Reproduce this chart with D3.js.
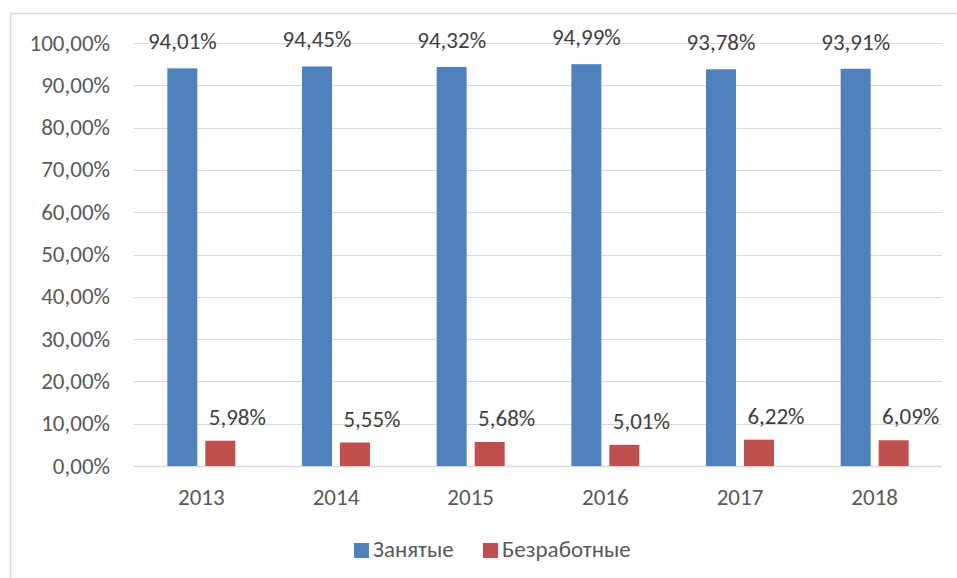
<!DOCTYPE html>
<html lang="ru">
<head>
  <meta charset="UTF-8">
  <title>Занятые и безработные</title>
  <style>
    body { margin: 0; background: #fff; }
    text { font-family: Calibri, Carlito, "Liberation Sans", Arial, sans-serif; fill: #595959; }
  </style>
</head>
<body>
<div id="chart"></div>
<script src="https://d3js.org/d3.v7.min.js"></script>
<script>

// chart data
const years = ["2013", "2014", "2015", "2016", "2017", "2018"];
const seriesNames = ["Занятые", "Безработные"];
const employed = [94.01, 94.45, 94.32, 94.99, 93.78, 93.91];
const unemployed = [5.98, 5.55, 5.68, 5.01, 6.22, 6.09];
const yTicks = [0, 10, 20, 30, 40, 50, 60, 70, 80, 90, 100];
const colors = ["#4f81bd", "#c0504d"];

const width = 957, height = 578;
const plot = { left: 134, right: 942, top: 43, bottom: 466 };
const fontSize = "23px";

const fmt = v => v.toFixed(2).replace(".", ",") + "%";

const svg = d3.select("#chart").append("svg")
  .attr("width", width)
  .attr("height", height);

// outer chart frame (goes past the picture edge)
svg.append("rect")
  .attr("x", 10.5).attr("y", 13.5)
  .attr("width", 960).attr("height", 580)
  .attr("fill", "none")
  .attr("stroke", "#d9d9d9")
  .attr("stroke-width", 1.5);

const y = d3.scaleLinear().domain([0, 100]).range([plot.bottom, plot.top]);
const x0 = d3.scaleBand().domain(years).range([plot.left, plot.right]);
const groupW = 68;
const x1 = d3.scaleBand().domain(seriesNames).range([0, groupW]).paddingInner(0.2105);
const groupStart = yr => x0(yr) + (x0.bandwidth() - groupW) / 2;

// gridlines
svg.append("g").selectAll("line")
  .data(yTicks)
  .enter().append("line")
  .attr("x1", plot.left).attr("x2", plot.right)
  .attr("y1", d => Math.round(y(d)) + 0.5)
  .attr("y2", d => Math.round(y(d)) + 0.5)
  .attr("stroke", "#d9d9d9")
  .attr("stroke-width", d => d === 0 ? 1.5 : 1.2);

// y tick labels
svg.append("g").selectAll("text")
  .data(yTicks)
  .enter().append("text")
  .attr("x", 110)
  .attr("y", d => y(d))
  .attr("dy", "0.33em")
  .attr("text-anchor", "end")
  .style("font-size", fontSize)
  .text(d => fmt(d));

// x labels
svg.append("g").selectAll("text")
  .data(years)
  .enter().append("text")
  .attr("x", d => x0(d) + x0.bandwidth() / 2)
  .attr("y", 505)
  .attr("text-anchor", "middle")
  .style("font-size", fontSize)
  .text(d => d);

const rows = years.map((yr, i) => ({ year: yr, values: [employed[i], unemployed[i]] }));

const groups = svg.append("g").selectAll("g")
  .data(rows)
  .enter().append("g")
  .attr("transform", d => `translate(${groupStart(d.year)},0)`);

const cells = groups.selectAll("g")
  .data(d => d.values.map((v, k) => ({ name: seriesNames[k], k: k, v: v })))
  .enter().append("g");

cells.append("rect")
  .attr("x", d => x1(d.name))
  .attr("y", d => y(d.v))
  .attr("width", x1.bandwidth())
  .attr("height", d => y(0) - y(d.v))
  .attr("fill", d => colors[d.k]);

// value labels: blue centred on bar, red shifted right a little (as in the original)
cells.append("text")
  .attr("x", d => x1(d.name) + x1.bandwidth() / 2 + (d.k === 1 ? 17 : 0))
  .attr("y", d => y(d.v) - (d.k === 0 ? 19 : 16))
  .attr("text-anchor", "middle")
  .style("font-size", fontSize)
  .style("fill", "#404040")
  .text(d => fmt(d.v));

// legend
const legendX = [354, 483];
const legend = svg.append("g").selectAll("g")
  .data(seriesNames)
  .enter().append("g")
  .attr("transform", (d, i) => `translate(${legendX[i]},543)`);

legend.append("rect")
  .attr("width", 15).attr("height", 15)
  .attr("fill", (d, i) => colors[i]);

legend.append("text")
  .attr("x", 19)
  .attr("y", 14)
  .style("font-size", fontSize)
  .text(d => d);

</script>
</body>
</html>
